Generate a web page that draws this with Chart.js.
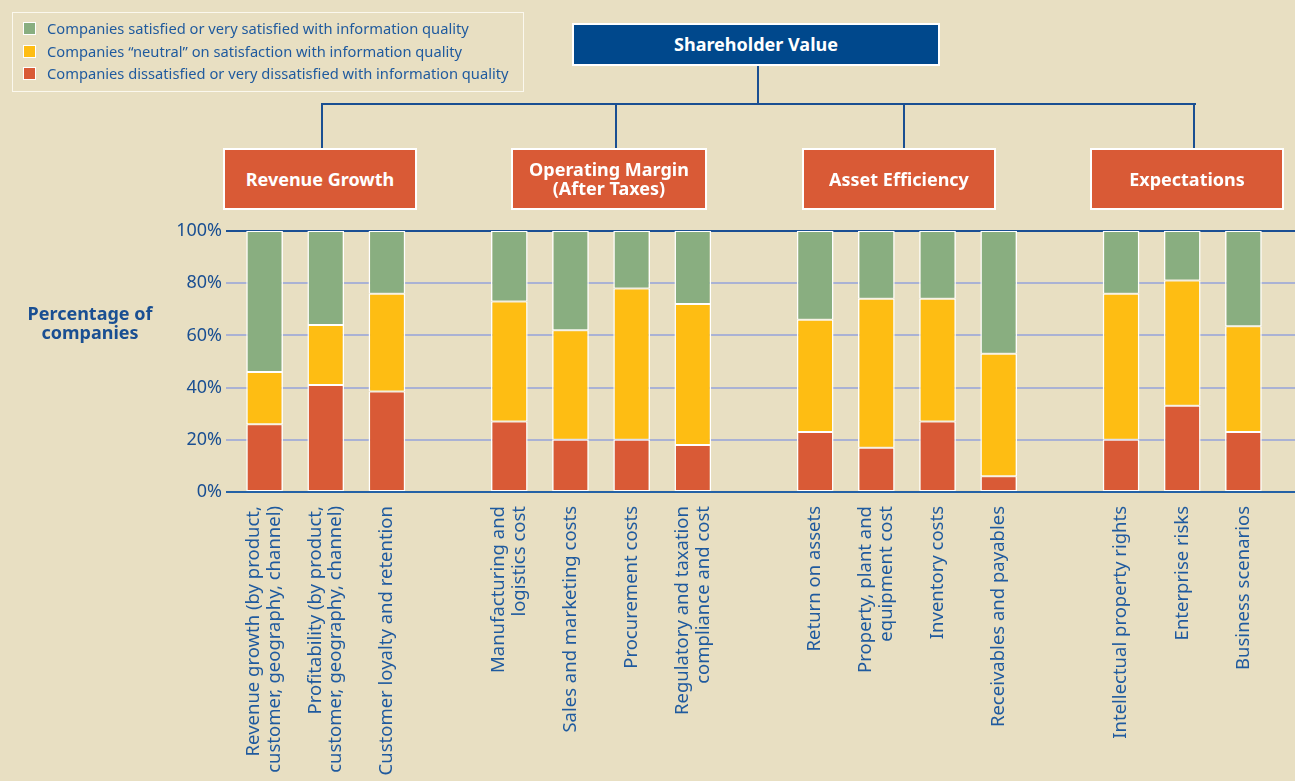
<!DOCTYPE html>
<html>
<head>
<meta charset="utf-8">
<script src="https://cdn.jsdelivr.net/npm/chart.js@4.4.1/dist/chart.umd.min.js"></script>
<style>
  html, body { margin: 0; padding: 0; background: #e8dfc2; }
  body { width: 1295px; height: 781px; position: relative; overflow: hidden; font-family: "Noto Sans", sans-serif; }
  #chart { position: absolute; left: 0; top: 0; }
  .legend { position: absolute; left: 12px; top: 12px; width: 512px; height: 80px; border: 1px solid #fbf8ee; box-sizing: border-box; padding: 4px 0 0 10px; }
  .legend div { height: 22.5px; line-height: 22px; font-size: 14.7px; color: #1f5a9e; white-space: nowrap; }
  .legend span { display: inline-block; width: 11px; height: 11px; border: 1px solid #fff; margin-right: 11px; vertical-align: -1px; }
  .box { position: absolute; color: #fff; font-weight: bold; font-size: 18px; line-height: 19px; text-align: center; display: flex; align-items: center; justify-content: center; border: 2px solid #fff; box-sizing: border-box; white-space: pre-line; }
  .top { left: 572px; top: 23px; width: 368px; height: 43px; background: #00488c; }
  .grp { top: 148px; height: 62px; background: #d95a36; }
  .ln { position: absolute; background: #1a4f92; }
  .ytitle { position: absolute; left: 0; top: 304px; width: 180px; text-align: center; font-weight: bold; font-size: 18px; line-height: 19px; color: #1a4f92; }
</style>
</head>
<body>
<canvas id="chart" width="1295" height="781"></canvas>
<div class="legend" id="legend"></div>
<div class="ln" style="left:757px;top:65px;width:2px;height:40px"></div>
<div class="ln" style="left:321px;top:103px;width:875px;height:2px"></div>
<div class="ln" style="left:321px;top:103px;width:2px;height:46px"></div>
<div class="ln" style="left:615px;top:103px;width:2px;height:46px"></div>
<div class="ln" style="left:903px;top:103px;width:2px;height:46px"></div>
<div class="ln" style="left:1193px;top:103px;width:2px;height:46px"></div>
<div class="box top" id="topBox"></div>
<div class="box grp" id="g0" style="left:223px;width:194px"></div>
<div class="box grp" id="g1" style="left:511px;width:196px"></div>
<div class="box grp" id="g2" style="left:802px;width:194px"></div>
<div class="box grp" id="g3" style="left:1090px;width:194px"></div>
<div class="ytitle">Percentage of<br>companies</div>
<script>
const rootTitle = 'Shareholder Value';
const groupNames = ['Revenue Growth', 'Operating Margin\n(After Taxes)', 'Asset Efficiency', 'Expectations'];

const revenueCats = [
  ['Revenue growth (by product,', 'customer, geography, channel)'],
  ['Profitability (by product,', 'customer, geography, channel)'],
  'Customer loyalty and retention'
];
const marginCats = [
  ['Manufacturing and', 'logistics cost'],
  'Sales and marketing costs',
  'Procurement costs',
  ['Regulatory and taxation', 'compliance and cost']
];
const assetCats = [
  'Return on assets',
  ['Property, plant and', 'equipment cost'],
  'Inventory costs',
  'Receivables and payables'
];
const expectCats = ['Intellectual property rights', 'Enterprise risks', 'Business scenarios'];

// percent of companies, one value per category, in order
const dissatisfied = [26, 41, 38.5, 27, 20, 20, 18, 23, 17, 27, 6, 20, 33, 23];
const neutral = [20, 23, 37.5, 46, 42, 58, 54, 43, 57, 47, 47, 56, 48, 40.5];
const satisfied = [54, 36, 24, 27, 38, 22, 28, 34, 26, 26, 47, 24, 19, 36.5];

const seriesNames = [
  'Companies dissatisfied or very dissatisfied with information quality',
  'Companies \u201cneutral\u201d on satisfaction with information quality',
  'Companies satisfied or very satisfied with information quality'
];
const seriesColors = ['#d95a36', '#febd13', '#89ae80'];
const yTicks = [0, 20, 40, 60, 80, 100];

// one empty slot between groups
const groups = [revenueCats, marginCats, assetCats, expectCats];
const labels = [];
const slotIndex = [];
groups.forEach((g, gi) => {
  if (gi > 0) labels.push('');
  g.forEach(c => { slotIndex.push(labels.length); labels.push(c); });
});
function spread(values) {
  const out = labels.map(() => null);
  values.forEach((v, i) => { out[slotIndex[i]] = v; });
  return out;
}

document.getElementById('topBox').textContent = rootTitle;
groupNames.forEach((n, i) => { document.getElementById('g' + i).textContent = n; });

const legendEl = document.getElementById('legend');
for (let i = seriesNames.length - 1; i >= 0; i--) {
  const row = document.createElement('div');
  row.innerHTML = '<span style="background:' + seriesColors[i] + '"></span>' + seriesNames[i];
  legendEl.appendChild(row);
}

const textBlue = '#1a4f92';
function gridColor(ctx) {
  if (ctx.tick.value === 100) return '#1b4f93';
  if (ctx.tick.value === 0) return '#2461a5';
  return '#aab2d4';
}

// keep two-line labels centred on their bar
const centerMultiLine = {
  id: 'centerMultiLine',
  beforeDraw(chart) {
    const sc = chart.scales.x;
    const lh = sc.options.ticks.font.size * sc.options.ticks.font.lineHeight;
    sc.getLabelItems().forEach(it => {
      if (Array.isArray(it.label) && !it.moved) {
        it.options.translation[0] -= (it.label.length - 1) * lh / 2;
        it.moved = true;
      }
    });
  }
};

const ctx = document.getElementById('chart').getContext('2d');
const chart = new Chart(ctx, {
  type: 'bar',
  data: {
    labels: labels,
    datasets: seriesNames.map((name, i) => ({
      label: name,
      data: spread([dissatisfied, neutral, satisfied][i]),
      backgroundColor: seriesColors[i],
      borderColor: '#ffffff',
      borderWidth: { left: 1.5, right: 1.5, top: 1, bottom: 1 },
      borderSkipped: false,
      barPercentage: 0.6,
      categoryPercentage: 1
    }))
  },
  options: {
    responsive: false,
    animation: false,
    layout: { padding: { top: 231, left: 0, right: 0, bottom: 0 } },
    plugins: {
      legend: { display: false },
      tooltip: { enabled: false }
    },
    scales: {
      x: {
        stacked: true,
        grid: { display: false },
        border: { display: false },
        ticks: {
          autoSkip: false,
          minRotation: 90,
          maxRotation: 90,
          padding: 6,
          color: '#1f5a9e',
          font: { family: 'Noto Sans', size: 18.5, lineHeight: 1.13 }
        },
        afterFit: s => { s.height = 289; }
      },
      y: {
        stacked: true,
        min: 0,
        max: 100,
        afterBuildTicks: s => { s.ticks = yTicks.map(v => ({ value: v })); },
        grid: { color: gridColor, lineWidth: 2, tickLength: 8 },
        border: { display: false },
        ticks: {
          padding: 4,
          color: textBlue,
          font: { family: 'Noto Sans', size: 18 },
          callback: v => v + '%'
        },
        afterFit: s => { s.width = 234; }
      },
      y2: {
        position: 'right',
        min: 0,
        max: 100,
        afterBuildTicks: s => { s.ticks = yTicks.map(v => ({ value: v })); },
        grid: { color: gridColor, lineWidth: 2, tickLength: 21, drawOnChartArea: false },
        border: { display: false },
        ticks: { display: false }
      }
    }
  },
  plugins: [centerMultiLine]
});
</script>
</body>
</html>
